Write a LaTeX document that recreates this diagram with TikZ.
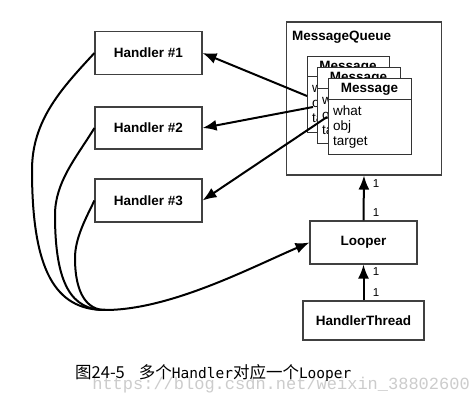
\documentclass[tikz,border=0pt]{standalone}
\usepackage{fontspec}
\setmainfont{Liberation Sans}
\newfontfamily\cjk{Noto Sans CJK SC}
\newfontfamily\monofam{DejaVu Sans Mono}
\newfontfamily\wmfont{Liberation Mono}
\usetikzlibrary{arrows.meta}
\begin{document}
\begin{tikzpicture}[x=1pt,y=-1pt,
  box/.style={draw=black!75,line width=1.1pt,fill=white,inner sep=0pt,
    font=\fontsize{13.5}{16}\selectfont\bfseries},
  card/.style={draw=black!80,line width=1pt,fill=white},
  cardtext/.style={anchor=west,inner sep=0pt,font=\fontsize{13.5}{16}\selectfont},
  cardhead/.style={inner sep=0pt,font=\fontsize{13.5}{16}\selectfont\bfseries},
  conn/.style={line width=2pt,black},
  arr/.style={conn,-{Latex[length=14pt,width=11pt]}},
  mult/.style={inner sep=0pt,font=\fontsize{11.5}{13}\selectfont}]
\useasboundingbox (0,0) rectangle (475,404);
\fill[white] (0,0) rectangle (475,404);
% Handlers
\node[box,minimum width=107pt,minimum height=43pt] (h1) at (148.5,53) {Handler \#1};
\node[box,minimum width=107pt,minimum height=42pt] (h2) at (148.5,128) {Handler \#2};
\node[box,minimum width=107pt,minimum height=43pt] (h3) at (148.5,200.5) {Handler \#3};
% MessageQueue
\node[box,minimum width=155pt,minimum height=153pt] (mq) at (364,98.5) {};
\node[cardhead,anchor=west] (mqt) at (292,37) {MessageQueue};
% back card
\draw[card] (307,57) rectangle (389,133);
\draw[black!80,line width=1pt] (307,77) -- (389,77);
\node[cardhead] (c1h) at (348,67) {Message};
\node[cardtext] (c1a) at (312,88) {what};
\node[cardtext] (c1b) at (312,104) {obj};
\node[cardtext] (c1c) at (312,120) {target};
% middle card
\draw[card] (317,68) rectangle (400,144);
\draw[black!80,line width=1pt] (317,89) -- (400,89);
\node[cardhead] (c2h) at (358.5,78.5) {Message};
\node[cardtext] (c2a) at (322,100) {what};
\node[cardtext] (c2b) at (322,116) {obj};
\node[cardtext] (c2c) at (322,132) {target};
% front card
\draw[card] (328,79) rectangle (411,155);
\draw[black!80,line width=1pt] (328,100) -- (411,100);
\node[cardhead] (c3h) at (369.5,89.5) {Message};
\node[cardtext] (c3a) at (333,111) {what};
\node[cardtext] (c3b) at (333,127) {obj};
\node[cardtext] (c3c) at (333,143) {target};
% Looper and HandlerThread
\node[box,minimum width=107pt,minimum height=43pt] (lp) at (363.5,242.5) {Looper};
\node[box,minimum width=121pt,minimum height=39pt] (ht) at (363.5,320.5) {HandlerThread};
% message -> handler arrows
\coordinate (m1) at (307,96);
\coordinate (m2) at (313,107);
\coordinate (m3) at (327,117);
\draw[arr] (m1) -- (h1.east);
\draw[arr] (m2) -- (h2.east);
\draw[arr] (m3) -- (h3.east);
% handler -> looper curves
\coordinate (j) at (105,310);
\draw[conn] (h1.west) .. controls (62,88) and (32,120) .. (32,170)
  .. controls (32,270) and (55,310) .. (j);
\draw[conn] (h2.west) .. controls (76,158) and (55,182) .. (55,215)
  .. controls (55,285) and (72,310) .. (j);
\draw[conn] (h3.west) .. controls (86,218) and (75,238) .. (75,258)
  .. controls (75,295) and (88,310) .. (j);
\draw[arr] (j) .. controls (170,310) and (250,268) .. (lp.west);
% looper -> mq, thread -> looper
\draw[arr] (lp.north) -- (mq.south);
\draw[arr] (ht.north) -- (lp.south);
\node[mult] (l1) at (376,184) {1};
\node[mult] (l2) at (376,213) {1};
\node[mult] (l3) at (376,272) {1};
\node[mult] (l4) at (376,293) {1};
% caption
\node[inner sep=0pt,anchor=east,text=black!20,font=\wmfont\fontsize{17}{19}\selectfont] (wm) at (470,385) {https://blog.csdn.net/weixin\_38802600};
\node[inner sep=0pt,anchor=west,text=black] (cap) at (75,373)
  {{\cjk\fontsize{16.5}{19}\selectfont 图24-5\hspace{14pt}多个}{\monofam\fontsize{14.5}{19}\selectfont Handler}{\cjk\fontsize{16.5}{19}\selectfont 对应一个}{\monofam\fontsize{14.5}{19}\selectfont Looper}};
\end{tikzpicture}
\end{document}
